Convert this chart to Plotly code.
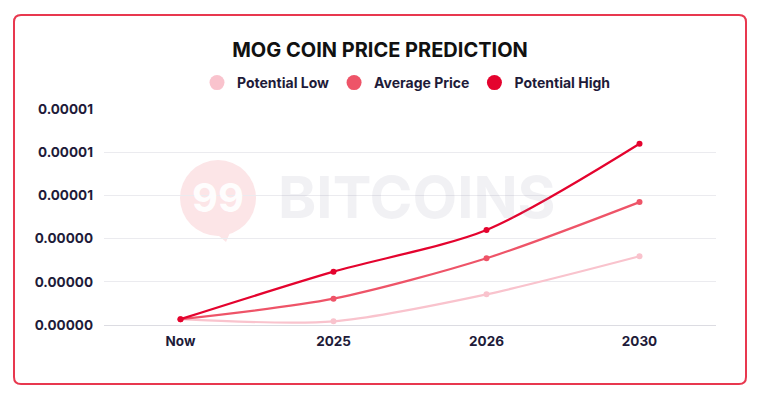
import plotly.graph_objects as go

categories = ["Now", "2025", "2026", "2030"]
potential_low = [0.27e-6, 0.17e-6, 1.42e-6, 3.18e-6]
average_price = [0.27e-6, 1.22e-6, 3.09e-6, 5.69e-6]
potential_high = [0.27e-6, 2.47e-6, 4.40e-6, 8.39e-6]
y_ticks = [0, 2e-6, 4e-6, 6e-6, 8e-6, 1e-5]

series = [
    ("Potential Low", potential_low, "#F9C3CD"),
    ("Average Price", average_price, "#EE5468"),
    ("Potential High", potential_high, "#E4032E"),
]

FONT = "Inter"
TEXT = "#1E1B39"
LOGO = "#FCE5E7"

fig = go.Figure()
for name, vals, col in series:
    fig.add_trace(go.Scatter(
        x=categories, y=vals, mode="lines+markers", name=name,
        line=dict(color=col, width=2.2, shape="spline", smoothing=0.8),
        marker=dict(color=col, size=6), showlegend=False,
        hoverinfo="x+y+name"))
for name, vals, col in series:
    fig.add_trace(go.Scatter(
        x=[None], y=[None], mode="markers", name=name,
        marker=dict(color=col, size=15), showlegend=True))

W, H = 760, 400
L, R, T, B = 104, 44, 109, 75
pw, ph = W - L - R, H - T - B

def px(x):
    return (x - L) / pw

def py(y):
    return (H - B - y) / ph

# rounded border
x0, x1, y0, y1 = px(14), px(746), py(384), py(15)
rx, ry = 7 / pw, 7 / ph
path = (f"M {x0+rx},{y1} L {x1-rx},{y1} Q {x1},{y1} {x1},{y1-ry} "
        f"L {x1},{y0+ry} Q {x1},{y0} {x1-rx},{y0} L {x0+rx},{y0} "
        f"Q {x0},{y0} {x0},{y0+ry} L {x0},{y1-ry} Q {x0},{y1} {x0+rx},{y1} Z")
fig.add_shape(type="path", path=path, xref="paper", yref="paper",
              line=dict(color="#E8384F", width=2), fillcolor="rgba(0,0,0,0)",
              layer="above")

# watermark logo (bubble with tail) and text
fig.add_shape(type="path", xref="paper", yref="paper",
              path=(f"M {px(212)},{py(230)} L {px(226)},{py(242)} "
                    f"L {px(232)},{py(228)} Z"),
              fillcolor=LOGO, line=dict(width=0), layer="below")
fig.add_shape(type="circle", xref="paper", yref="paper",
              x0=px(180), x1=px(256), y0=py(236), y1=py(160),
              fillcolor=LOGO, line=dict(width=0), layer="below")
fig.add_annotation(x=px(218), y=py(197), xref="paper", yref="paper",
                   xanchor="center", yanchor="middle",
                   text="<b>99</b>", showarrow=False,
                   font=dict(family=FONT, size=40, color="rgba(255,255,255,0.95)"))
fig.add_annotation(x=px(417), y=py(197), xref="paper", yref="paper",
                   xanchor="center", yanchor="middle",
                   text="<b>BITCOINS</b>", showarrow=False,
                   font=dict(family=FONT, size=58, color="rgba(150,150,170,0.13)"))

fig.update_layout(
    width=W, height=H,
    margin=dict(l=L, r=R, t=T, b=B, autoexpand=False),
    paper_bgcolor="white", plot_bgcolor="white",
    font=dict(family=FONT, color=TEXT, size=13),
    title=dict(text="<b>MOG COIN PRICE PREDICTION</b>", x=0.5, xref="container",
               xanchor="center", y=1 - 50 / H, yref="container", yanchor="middle",
               font=dict(family=FONT, size=20, color="#111111")),
    legend=dict(orientation="h", x=0.5 - 4 / pw, xanchor="center",
                y=py(83), yanchor="middle", yref="paper",
                font=dict(family=FONT, size=14, color=TEXT, weight="bold"),
                itemwidth=30, bgcolor="rgba(0,0,0,0)"),
    xaxis=dict(type="category", range=[-0.5, 3.5], showgrid=False,
               showline=False, zeroline=False, ticks="", ticklabelstandoff=6,
               tickfont=dict(family=FONT, size=13.5, color=TEXT, weight="bold")),
    yaxis=dict(range=[0, 1e-5], tickvals=y_ticks, tickformat=".5f",
               showgrid=True, gridcolor="#EBEBEF", gridwidth=1,
               zeroline=True, zerolinecolor="#DCDCE2", zerolinewidth=1,
               showline=False, ticks="", ticklabelstandoff=10,
               tickfont=dict(family=FONT, size=13.5, color=TEXT, weight="bold")),
    showlegend=True,
)

fig.write_html("out.html")
